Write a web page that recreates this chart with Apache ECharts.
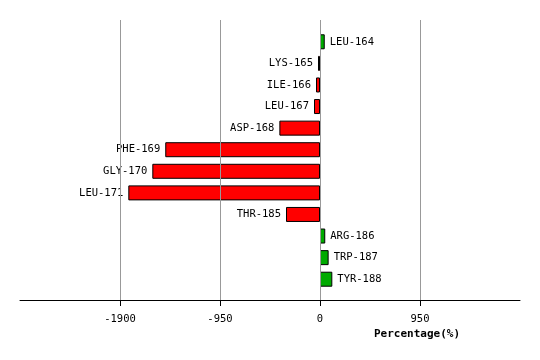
<!DOCTYPE html>
<html><head><meta charset="utf-8">
<script src="https://cdn.jsdelivr.net/npm/echarts@6/dist/echarts.min.js"></script>
<style>html,body{margin:0;padding:0;background:#fff}#c{width:540px;height:360px}</style>
</head><body><div id="c"></div>
<script>
var categories = ['LEU-164','LYS-165','ILE-166','LEU-167','ASP-168','PHE-169','GLY-170','LEU-171','THR-185','ARG-186','TRP-187','TYR-188'];
var values = [45, -19, -38, -57, -386, -1470, -1593, -1821, -323, 50, 82, 117];
var tickValues = [-1900, -950, 0, 950];
var axisTitle = 'Percentage(%)';

var font = '"DejaVu Sans Mono", monospace';
var chart = echarts.init(document.getElementById('c'));
var data = values.map(function (v) {
  return {
    value: v,
    itemStyle: { color: v < 0 ? '#ff0000' : '#00aa00', borderColor: '#000', borderWidth: 1 },
    label: { show: true, position: v < 0 ? 'left' : 'right', distance: 5,
             formatter: '{b}', color: '#000', fontFamily: font, fontSize: 10.5 }
  };
});
chart.setOption({
  animation: false,
  grid: [
    { left: 20, right: 20, top: 20, bottom: 60 },
    { left: 20, right: 20, top: 31, bottom: 70 }
  ],
  xAxis: [
    { gridIndex: 0, type: 'value', min: -2850, max: 1900, interval: 950,
      axisLine: { show: true, onZero: false, lineStyle: { color: '#000', width: 1 } },
      axisTick: { show: true, length: 6, customValues: tickValues, lineStyle: { color: '#000' } },
      axisLabel: { customValues: tickValues, color: '#000', fontFamily: font, fontSize: 10.5, margin: 14,
                   formatter: function (v) { return String(v); } },
      splitLine: { show: false }
    },
    { gridIndex: 1, type: 'value', min: -2850, max: 1900, show: false }
  ],
  yAxis: [
    { gridIndex: 0, type: 'value', min: 0, max: 1, show: false },
    { gridIndex: 1, type: 'category', data: categories, inverse: true, show: false }
  ],
  graphic: [{
    type: 'text', left: 374, top: 329,
    style: { text: axisTitle, fill: '#000', font: 'bold 11px ' + font }
  }],
  series: [{
    type: 'scatter', xAxisIndex: 0, yAxisIndex: 0, data: [], z: 0,
    markLine: {
      silent: true, symbol: ['none', 'none'], label: { show: false },
      lineStyle: { color: '#999', width: 1, type: 'solid' },
      data: tickValues.map(function (t) { return { xAxis: t }; })
    }
  }, {
    type: 'bar', xAxisIndex: 1, yAxisIndex: 1, barWidth: 15, data: data, z: 3
  }]
});
</script></body></html>
